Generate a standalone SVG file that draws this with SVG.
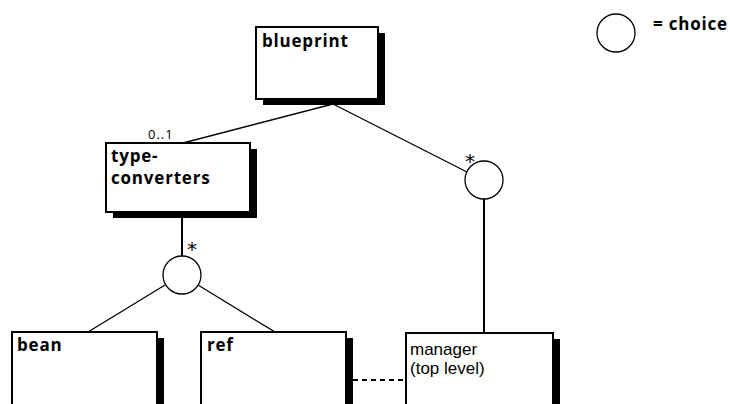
<svg xmlns="http://www.w3.org/2000/svg" width="730" height="404" viewBox="0 0 730 404">
<style>
.box{fill:#fff;stroke:#000;stroke-width:2}
.sh{fill:#000}
.b{font-family:"Open Sans","Liberation Sans",sans-serif;font-weight:bold;font-size:17px;letter-spacing:0.8px;fill:#000}
.r{font-family:"Liberation Sans",Arial,sans-serif;font-size:17px;fill:#000}
.s{font-family:"Open Sans","Liberation Sans",sans-serif;font-size:13px;letter-spacing:1px;fill:#000}
.a{font-family:"DejaVu Sans",sans-serif;font-size:20px;fill:#000}
.ln{stroke:#000;stroke-width:1.3;fill:none}
.v{stroke:#000;stroke-width:2;fill:none}
.c{fill:#fff;stroke:#000;stroke-width:1.3}
</style>
<rect width="730" height="404" fill="#fff"/>
<g id="connectors">
<line class="ln" x1="333" y1="104" x2="183" y2="143"/>
<line class="ln" x1="333" y1="104" x2="467" y2="172"/>
<line class="v" x1="182" y1="218" x2="182" y2="256"/>
<line class="ln" x1="165" y1="285" x2="88" y2="332"/>
<line class="ln" x1="198" y1="285" x2="275" y2="332"/>
<line class="v" x1="484" y1="199" x2="484" y2="333"/>
<line class="v" x1="353" y1="380" x2="406" y2="380" stroke-dasharray="5,4"/>
<text class="s" x="148" y="139">0..1</text>
<text class="a" x="187" y="256">*</text>
<text class="a" x="465" y="168">*</text>
</g>
<g id="blueprint">
<rect class="sh" x="263" y="33" width="122" height="72"/>
<rect class="box" x="256" y="27" width="122" height="72"/>
<text class="b" x="262" y="47">blueprint</text>
</g>
<g id="type-converters">
<rect class="sh" x="113" y="149" width="144" height="69"/>
<rect class="box" x="106" y="143" width="144" height="69"/>
<text class="b" x="111" y="162">type-</text>
<text class="b" x="111" y="184">converters</text>
</g>
<g id="choice-1">
<circle class="c" cx="182" cy="275" r="19"/>
</g>
<g id="choice-2">
<circle class="c" cx="484" cy="180" r="19"/>
</g>
<g id="bean">
<rect class="sh" x="19" y="338" width="145" height="80"/>
<rect class="box" x="12" y="332" width="145" height="80"/>
<text class="b" x="17" y="351">bean</text>
</g>
<g id="ref">
<rect class="sh" x="208" y="338" width="145" height="80"/>
<rect class="box" x="201" y="332" width="145" height="80"/>
<text class="b" x="207" y="351">ref</text>
</g>
<g id="manager">
<rect class="sh" x="413" y="339" width="147" height="80"/>
<rect class="box" x="406" y="333" width="147" height="80"/>
<text class="r" x="410" y="355">manager</text>
<text class="r" x="410" y="374">(top level)</text>
</g>
<g id="legend">
<circle class="c" cx="616" cy="33" r="19"/>
<text class="b" x="653" y="30">= choice</text>
</g>
</svg>
